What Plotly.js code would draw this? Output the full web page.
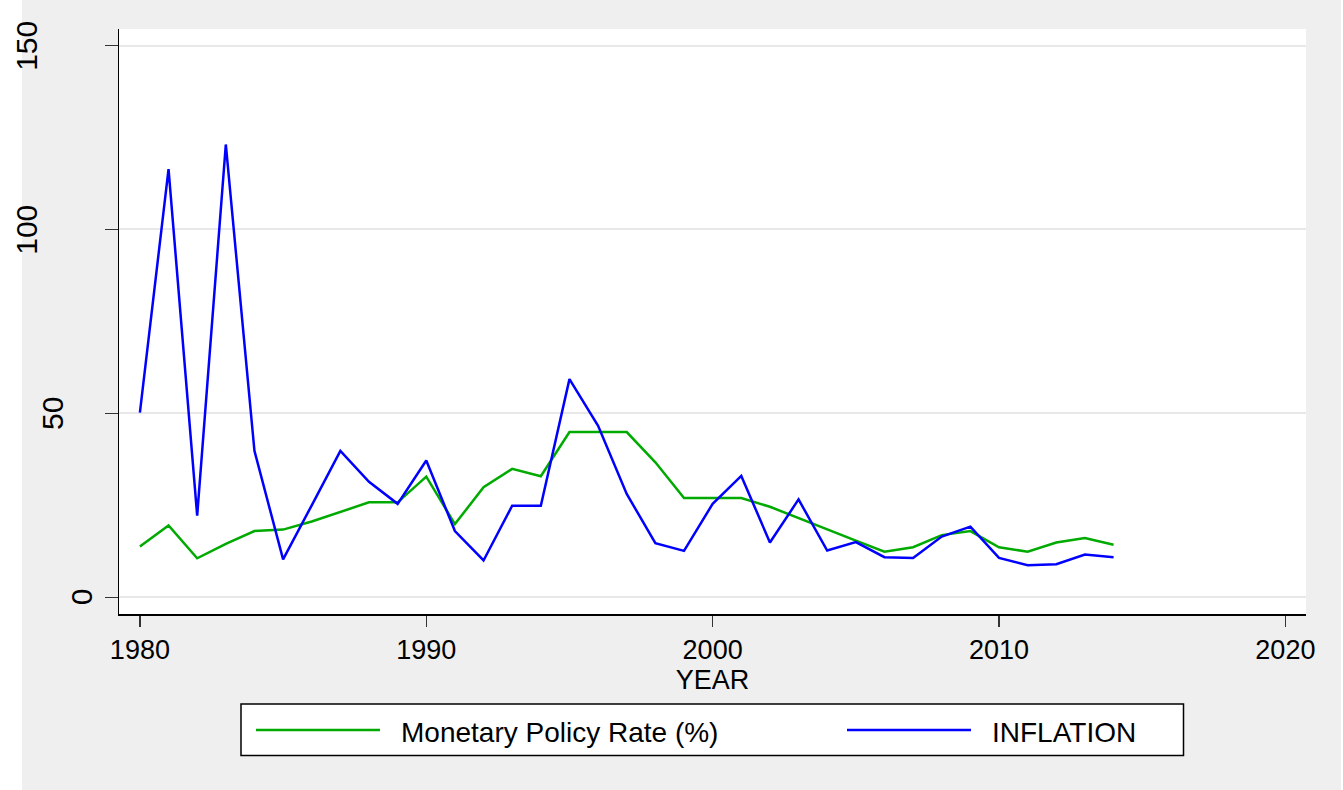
<!DOCTYPE html>
<html>
<head>
<meta charset="utf-8">
<script src="https://cdn.plot.ly/plotly-3.0.1.min.js"></script>
<style>html,body{margin:0;padding:0;background:#fff;}#chart{width:1343px;height:790px;}</style>
</head>
<body>
<div id="chart"></div>
<script>
// ---- data ----
const years = [1980,1981,1982,1983,1984,1985,1986,1987,1988,1989,1990,1991,1992,1993,1994,1995,1996,1997,1998,1999,2000,2001,2002,2003,2004,2005,2006,2007,2008,2009,2010,2011,2012,2013,2014];
const policyRate = [13.8,19.5,10.6,14.5,18.0,18.4,20.6,23.3,25.8,25.8,32.8,19.9,29.9,34.9,32.9,44.9,44.9,44.9,36.7,27.0,27.0,27.0,24.6,21.5,18.3,15.4,12.4,13.6,16.9,18.0,13.6,12.4,14.9,16.1,14.3];
const inflation = [50.2,116.4,22.2,123.1,39.8,10.3,25.0,39.8,31.4,25.4,37.2,18.0,10.0,24.9,24.9,59.3,46.6,28.1,14.7,12.6,25.4,33.0,14.9,26.6,12.7,15.0,10.9,10.7,16.5,19.2,10.7,8.7,9.0,11.6,10.9];
const seriesNames = ["Monetary Policy Rate (%)", "INFLATION"];
const xTickVals = [1980,1990,2000,2010,2020];
const xTickText = ["1980","1990","2000","2010","2020"];
const yTickVals = [0,50,100,150];
const yTickText = ["0","50","100","150"];
const xTitle = "YEAR";

// ---- style ----
const FONT = "Liberation Sans, Arial, Helvetica, sans-serif";
const colors = ["#00aa00", "#0000ff"];
const yLabelX = [-0.0320, -0.0560, -0.0781, -0.0781]; // paper x of each rotated y label
const W = 1187, H = 585, L = 119, T = 29;
const px = v => (v - L) / W;
const py = v => (T + H - v) / H;

const traces = [
  {x: years, y: policyRate, name: seriesNames[0], type: "scatter", mode: "lines",
   line: {color: colors[0], width: 2.5}, showlegend: false, hoverinfo: "x+y"},
  {x: years, y: inflation, name: seriesNames[1], type: "scatter", mode: "lines",
   line: {color: colors[1], width: 2.5}, showlegend: false, hoverinfo: "x+y"}
];

const shapes = [
  // grey outer background
  {type: "rect", xref: "paper", yref: "paper", x0: px(22), x1: px(1341), y0: py(790), y1: py(0),
   fillcolor: "#efefef", line: {width: 0}, layer: "below"},
  // white plotting region
  {type: "rect", xref: "paper", yref: "paper", x0: 0, x1: 1, y0: 0, y1: 1,
   fillcolor: "#ffffff", line: {width: 0}, layer: "below"},
  // legend box
  {type: "rect", xref: "paper", yref: "paper", x0: px(241), x1: px(1183.5), y0: py(755.5), y1: py(704),
   fillcolor: "#ffffff", line: {color: "#000000", width: 1.5}, layer: "above"},
  {type: "line", xref: "paper", yref: "paper", x0: px(256), x1: px(380), y0: py(730), y1: py(730),
   line: {color: colors[0], width: 2.5}},
  {type: "line", xref: "paper", yref: "paper", x0: px(847), x1: px(971), y0: py(730), y1: py(730),
   line: {color: colors[1], width: 2.5}}
];

const annotations = [];
yTickVals.forEach((v, i) => {
  annotations.push({x: yLabelX[i], xref: "paper", y: v, yref: "y", text: yTickText[i],
    textangle: -90, showarrow: false, xanchor: "center", yanchor: "middle",
    font: {family: FONT, size: 30, color: "#000"}});
});
annotations.push({x: px(399), y: py(732), xref: "paper", yref: "paper", text: seriesNames[0],
  showarrow: false, xanchor: "left", yanchor: "middle", font: {family: FONT, size: 28, color: "#000"}});
annotations.push({x: px(990), y: py(732), xref: "paper", yref: "paper", text: seriesNames[1],
  showarrow: false, xanchor: "left", yanchor: "middle", font: {family: FONT, size: 28, color: "#000"}});

const layout = {
  width: 1343, height: 790,
  margin: {l: L, r: 1343 - L - W, t: T, b: 790 - T - H, pad: 0},
  paper_bgcolor: "#ffffff",
  plot_bgcolor: "#ffffff",
  font: {family: FONT, color: "#000"},
  showlegend: false,
  xaxis: {
    range: [1979.27, 2020.72], tickmode: "array", tickvals: xTickVals, ticktext: xTickText,
    showgrid: false, zeroline: false, showline: true, linecolor: "#000", linewidth: 1.5,
    ticks: "outside", ticklen: 11, tickwidth: 1.5, tickcolor: "#333",
    tickfont: {family: FONT, size: 27, color: "#000"},
    title: {text: xTitle, font: {family: FONT, size: 27, color: "#000"}, standoff: 0},
    automargin: false
  },
  yaxis: {
    range: [-4.55, 154.5], tickmode: "array", tickvals: yTickVals, showticklabels: false,
    showgrid: true, gridcolor: "#e8e8e8", gridwidth: 2, zeroline: false,
    showline: true, linecolor: "#000", linewidth: 1.5,
    ticks: "outside", ticklen: 13, tickwidth: 1.5, tickcolor: "#333",
    automargin: false
  },
  shapes: shapes,
  annotations: annotations
};

Plotly.newPlot("chart", traces, layout, {displayModeBar: false, staticPlot: true});
</script>
</body>
</html>
